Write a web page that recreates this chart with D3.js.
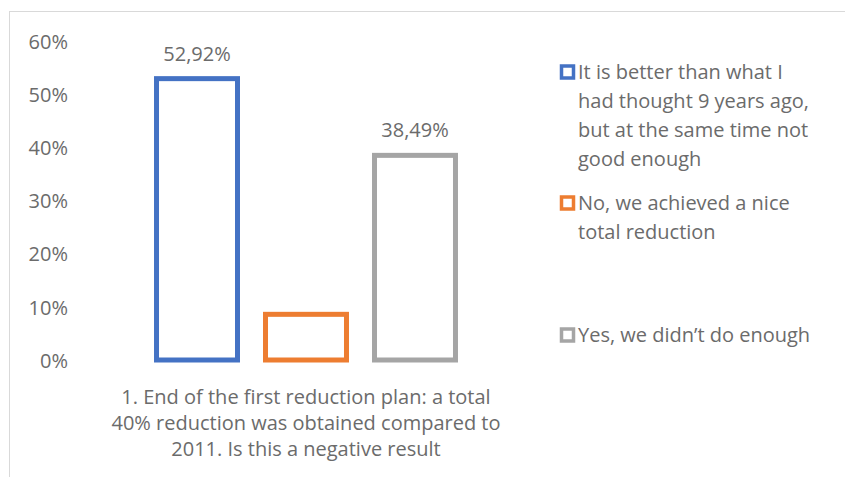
<!DOCTYPE html>
<html>
<head>
<meta charset="utf-8">
<script src="https://cdn.jsdelivr.net/npm/d3@7"></script>
<style>
  body { margin: 0; background: #fff; }
  text { font-family: "Open Sans", "Liberation Sans", sans-serif; fill: #6b6b6b; }
</style>
</head>
<body>
<div id="wrapper"></div>
<script>
// values
const categories = ["1. End of the first reduction plan: a total 40% reduction was obtained compared to 2011. Is this a negative result"]
const categoryLines = ["1. End of the first reduction plan: a total", "40% reduction was obtained compared to", "2011. Is this a negative result"]
const seriesNames = ["It is better than what I had thought 9 years ago, but at the same time not good enough",
  "No, we achieved a nice total reduction",
  "Yes, we didn\u2019t do enough"]
const legendLines = [
  ["It is better than what I", "had thought 9 years ago,", "but at the same time not", "good enough"],
  ["No, we achieved a nice", "total reduction"],
  ["Yes, we didn\u2019t do enough"]
]
const values = [0.5292, 0.0859, 0.3849]
// the orange bar has no data label in the picture
const valueLabels = ["52,92%", null, "38,49%"]
const yTicks = [0, 0.1, 0.2, 0.3, 0.4, 0.5, 0.6]
const colors = ["#4472c4", "#ed7d31", "#a5a5a5"]

const dimensions = { width: 845, height: 477 }
const fontSize = "20px"

const svg = d3.select("#wrapper").append("svg")
  .attr("width", dimensions.width)
  .attr("height", dimensions.height)

// chart border (runs off the right/bottom edge)
svg.append("rect")
  .attr("x", 9.5).attr("y", 11.5)
  .attr("width", 900).attr("height", 500)
  .attr("fill", "#fff")
  .attr("stroke", "#d9d9d9")

const yScale = d3.scaleLinear()
  .domain([0, 0.6])
  .range([360, 41])

const x0 = d3.scaleBand()
  .domain(categories)
  .range([80, 532])

const x1 = d3.scaleBand()
  .domain(seriesNames)
  .range([0, x0.bandwidth()])
  .paddingInner(0.257)
  .paddingOuter(0.702)

// y axis labels only (no line, no gridlines)
const yAxis = svg.append("g")
  .attr("transform", "translate(68,0)")
  .call(d3.axisLeft(yScale).tickValues(yTicks).tickSize(0).tickPadding(0)
    .tickFormat(d => Math.round(d * 100) + "%"))
yAxis.select(".domain").remove()
yAxis.selectAll("text")
  .attr("fill", "#6b6b6b")
  .attr("dy", "0.36em")
  .style("font-family", "'Open Sans', sans-serif")
  .style("font-size", fontSize)

const bars = svg.append("g")
  .attr("transform", `translate(${x0(categories[0])},0)`)

bars.selectAll("rect")
  .data(values)
  .join("rect")
  .attr("x", (d, i) => x1(seriesNames[i]))
  .attr("width", x1.bandwidth())
  .attr("y", d => yScale(d))
  .attr("height", d => yScale(0) - yScale(d))
  .attr("fill", "none")
  .attr("stroke", (d, i) => colors[i])
  .attr("stroke-width", 5)

bars.selectAll(".vlabel")
  .data(values)
  .join("text")
  .attr("class", "vlabel")
  .attr("x", (d, i) => x1(seriesNames[i]) + x1.bandwidth() / 2)
  .attr("y", d => yScale(d) - 18)
  .attr("text-anchor", "middle")
  .style("font-size", fontSize)
  .text((d, i) => valueLabels[i] || "")

// category label
svg.append("text")
  .attr("text-anchor", "middle")
  .style("font-size", fontSize)
  .selectAll("tspan")
  .data(categoryLines)
  .join("tspan")
  .attr("x", x0(categories[0]) + x0.bandwidth() / 2)
  .attr("y", (d, i) => 404 + i * 26)
  .text(d => d)

// legend
const legendTop = [72, 203, 335]
const legend = svg.append("g")
legendLines.forEach((lines, i) => {
  legend.append("rect")
    .attr("x", 561.5).attr("y", legendTop[i] - 6)
    .attr("width", 12).attr("height", 12)
    .attr("fill", "#fff")
    .attr("stroke", colors[i])
    .attr("stroke-width", 3.5)
  legend.append("text")
    .style("font-size", fontSize)
    .selectAll("tspan")
    .data(lines)
    .join("tspan")
    .attr("x", 578)
    .attr("y", (d, j) => legendTop[i] + 7 + j * 29)
    .text(d => d)
})
</script>
</body>
</html>
